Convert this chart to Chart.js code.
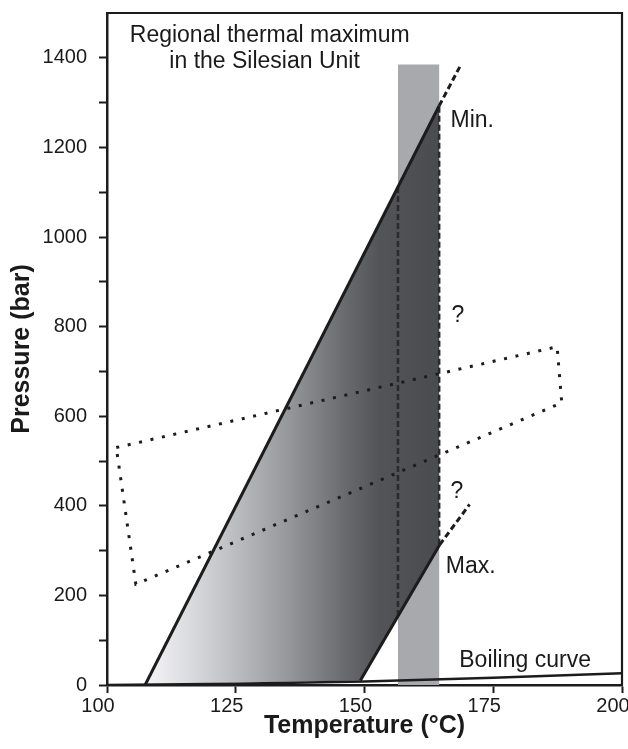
<!DOCTYPE html>
<html><head><meta charset="utf-8">
<script src="https://cdn.jsdelivr.net/npm/chart.js@4.4.1/dist/chart.umd.min.js"></script>
<style>html,body{margin:0;padding:0;background:#fff}#wrap{width:628px;height:749px;position:relative}</style>
</head><body><div id="wrap"><canvas id="c"></canvas></div>
<script>
// ---------------- data (°C, bar) ----------------
const xTickValues = [100, 125, 150, 175, 200];
const yLabelValues = [0, 200, 400, 600, 800, 1000, 1200, 1400];
const minLine = [{x:107.4,y:0},{x:164.5,y:1293}];
const minLineExtension = [{x:164.5,y:1293},{x:168.6,y:1382}];
const maxLine = [{x:149.2,y:10},{x:164.6,y:313}];
const maxLineExtension = [{x:164.6,y:313},{x:170.4,y:403}];
const boilingCurve = [{x:100,y:0},{x:125,y:3},{x:150,y:8},{x:175,y:16},{x:200,y:26}];
const thermalMaxBand = [{x:156.5,y:0},{x:156.5,y:1385},{x:164.5,y:1385},{x:164.5,y:0},{x:156.5,y:0}];
const lowerTempBound = [{x:156.5,y:154},{x:156.5,y:1112}];
const upperTempBound = [{x:164.5,y:313},{x:164.5,y:1293}];
const shadedField = [{x:107.5,y:2},{x:164.5,y:1293},{x:164.5,y:313},{x:149.2,y:10},{x:107.5,y:2}];
const inclusionField = [{x:101.8,y:530},{x:187.4,y:755},{x:188.3,y:630},{x:105.6,y:225},{x:101.8,y:530}];
const annotationTexts = [
  {text:'Regional thermal maximum', x:131.6, y:1435, align:'center'},
  {text:'in the Silesian Unit', x:130.6, y:1377, align:'center'},
  {text:'Min.', x:166.7, y:1246, align:'left'},
  {text:'?', x:166.9, y:811, align:'left'},
  {text:'?', x:166.7, y:417, align:'left'},
  {text:'Max.', x:165.8, y:249, align:'left'},
  {text:'Boiling curve', x:168.4, y:40, align:'left'}
];
// ------------------------------------------------

const INK = '#1c1c1c';
const FONT = '"Liberation Sans", Arial, sans-serif';
const gradientStops = [[107.5,'#f6f6f8'],[120,'#cdced2'],[135,'#97989c'],[147,'#66676b'],[153,'#535458'],[165,'#4a4b4f']];

function fieldGradient(ctx){
  const chart = ctx.chart;
  const xs = chart.scales.x;
  if (!chart.chartArea || !xs) return '#888';
  const x0 = xs.getPixelForValue(gradientStops[0][0]);
  const x1 = xs.getPixelForValue(gradientStops[gradientStops.length-1][0]);
  const g = chart.ctx.createLinearGradient(x0, 0, x1, 0);
  gradientStops.forEach(([t,c]) => g.addColorStop((xs.getPixelForValue(t)-x0)/(x1-x0), c));
  return g;
}

const framePlugin = {
  id:'frame',
  afterDatasetsDraw(chart){
    const {ctx, chartArea:a} = chart;
    ctx.save();
    ctx.strokeStyle = INK; ctx.lineWidth = 2.2;
    ctx.beginPath();
    ctx.moveTo(a.left, a.top); ctx.lineTo(a.right, a.top); ctx.lineTo(a.right, a.bottom);
    ctx.stroke();
    ctx.fillStyle = '#1a1a1a';
    ctx.font = '23px ' + FONT;
    ctx.textBaseline = 'alphabetic';
    annotationTexts.forEach(l => {
      ctx.textAlign = l.align;
      ctx.fillText(l.text, chart.scales.x.getPixelForValue(l.x), chart.scales.y.getPixelForValue(l.y));
    });
    ctx.restore();
  }
};

const lineDs = (data, opts) => Object.assign({data, showLine:true, pointRadius:0, borderColor:INK, borderWidth:3, fill:false, tension:0, borderCapStyle:'butt'}, opts);

new Chart(document.getElementById('c'), {
  type:'scatter',
  data:{ datasets:[
    lineDs(thermalMaxBand, {borderWidth:0, borderColor:'rgba(0,0,0,0)', backgroundColor:'#a8a9ad', fill:'shape', order:10}),
    lineDs(shadedField, {borderWidth:0, borderColor:'rgba(0,0,0,0)', backgroundColor:fieldGradient, fill:'shape', order:9}),
    lineDs(boilingCurve, {borderWidth:2.5, order:3}),
    lineDs(inclusionField, {borderWidth:3, borderDash:[3,8.7], order:4}),
    lineDs(lowerTempBound, {borderWidth:2.5, borderDash:[6,3], borderColor:'#2a2a2a', order:5}),
    lineDs(upperTempBound, {borderWidth:2.5, borderDash:[6,3], borderColor:'#2a2a2a', order:5}),
    lineDs(minLine, {order:1}),
    lineDs(maxLine, {order:1}),
    lineDs(minLineExtension, {borderDash:[6,3.5], order:2}),
    lineDs(maxLineExtension, {borderDash:[6,3.5], order:2})
  ]},
  options:{
    responsive:true, maintainAspectRatio:false, animation:false,
    layout:{padding:{top:13, right:6, left:0, bottom:0}},
    plugins:{legend:{display:false}, tooltip:{enabled:false}},
    scales:{
      x:{
        type:'linear', min:100, max:200,
        afterFit(s){ s.height = 64; s.paddingLeft = 0; s.paddingRight = 0; },
        afterBuildTicks(s){ s.ticks = xTickValues.map(v => ({value:v})); },
        grid:{drawOnChartArea:false, drawTicks:true, tickLength:8, tickWidth:2, tickColor:INK},
        border:{display:true, color:INK, width:2.5},
        ticks:{color:'#1a1a1a', padding:1, labelOffset:-9, font:{family:FONT, size:20}, maxRotation:0},
        title:{display:true, text:'Temperature (°C)', color:'#1a1a1a', padding:{top:0,bottom:8}, font:{family:FONT, size:25, weight:'bold'}}
      },
      y:{
        type:'linear', min:0, max:1500,
        afterFit(s){ s.width = 107; s.paddingTop = 0; s.paddingBottom = 0; },
        afterBuildTicks(s){ const t=[]; for(let v=0; v<=1400; v+=100) t.push({value:v}); s.ticks = t; },
        grid:{drawOnChartArea:false, drawTicks:true, tickLength:8, tickWidth:2, tickColor:INK},
        border:{display:true, color:INK, width:2.5},
        ticks:{color:'#1a1a1a', padding:12, autoSkip:false, font:{family:FONT, size:20},
          callback:(v) => yLabelValues.includes(v) ? String(v) : ''},
        title:{display:true, text:'Pressure (bar)', color:'#1a1a1a', padding:{top:7,bottom:0}, font:{family:FONT, size:25, weight:'bold'}}
      }
    }
  },
  plugins:[framePlugin]
});
</script></body></html>
